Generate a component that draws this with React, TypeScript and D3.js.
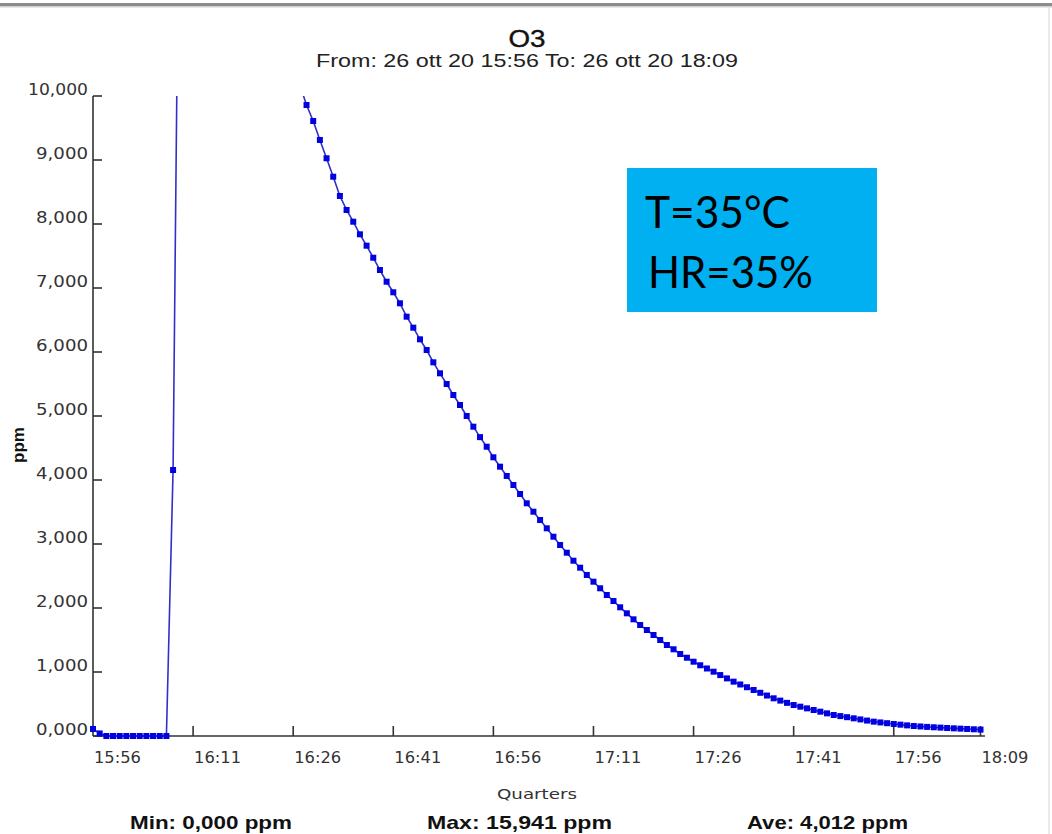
import React from "react";
import * as d3 from "d3";

// ---- data ----
const chartTitle = "O3";
const chartSubtitle = "From: 26 ott 20 15:56 To: 26 ott 20 18:09";
const yAxisTitle = "ppm";
const xAxisTitle = "Quarters";
const statLabels = ["Min: 0,000 ppm", "Max: 15,941 ppm", "Ave: 4,012 ppm"];
const infoLines = ["T=35°C", "HR=35%"];

// minutes after 15:56 at which the x ticks sit, and their labels
const xTickMinutes = [0, 15, 30, 45, 60, 75, 90, 105, 120, 133];
const xTickLabels = ["15:56", "16:11", "16:26", "16:41", "16:56", "17:11", "17:26", "17:41", "17:56", "18:09"];

const yTickValues = [0, 1000, 2000, 3000, 4000, 5000, 6000, 7000, 8000, 9000, 10000];
const yTickLabels = ["0,000", "1,000", "2,000", "3,000", "4,000", "5,000", "6,000", "7,000", "8,000", "9,000", "10,000"];

// one O3 reading (ppm) per minute from 15:56 to 18:09
const o3Values = [
  110, 40, 0, 0, 0, 0, 0, 0, 0, 0, 0, 0,
  4156, 14700,
  15941, 15525, 15120, 14725, 14340, 13965, 13600, 13245, 12900, 12560,
  12235, 11915, 11605, 11300, 11005, 10720, 10440, 10170,
  9859, 9609, 9313, 9027, 8739, 8438, 8219, 8036, 7839, 7661,
  7473, 7281, 7098, 6933, 6761, 6552, 6380, 6198, 6031, 5839,
  5667, 5500, 5328, 5172, 5000, 4833, 4670, 4520,
  4355, 4208, 4063, 3922, 3781, 3636, 3505, 3375, 3245, 3114,
  2984, 2864, 2739, 2630, 2516, 2411, 2308, 2203, 2109, 2011,
  1917, 1823, 1734, 1656, 1578, 1500, 1422, 1355, 1281, 1223, 1161,
  1105, 1055, 1005, 952, 900, 849, 805, 762, 719, 675,
  632, 589, 553, 518, 484, 458, 432, 406, 380, 354,
  328, 311, 294, 276, 259, 241, 224, 212, 200, 188,
  177, 166, 156, 149, 142, 136, 131, 125, 120, 115,
  110, 105, 100,
];

// ---- layout ----
const W = 1052;
const H = 834;
const M = { left: 93, right: 981, top: 96, bottom: 736 };

export default function App() {
  const x = d3.scaleLinear().domain([0, 133]).range([M.left, M.right - 0.5]);
  const y = d3.scaleLinear().domain([0, 10000]).range([M.bottom, M.top]);

  const line = d3
    .line<number>()
    .x((_, i) => x(i))
    .y((d) => y(d));

  const axisColor = "#333";
  const tickFont = "'DejaVu Sans', Verdana, sans-serif";
  const boldFont = "'Liberation Sans', Arial, sans-serif";
  const ms = 6;

  return (
    <svg
      width={W}
      height={H}
      style={{ position: "absolute", left: 0, top: 0, background: "#fff" }}
    >
      <defs>
        <clipPath id="plotClip">
          <rect x={0} y={M.top} width={W} height={H - M.top} />
        </clipPath>
      </defs>

      {/* top frame line */}
      <rect x={0} y={3} width={W} height={3} fill="#8c8c8c" />
      <rect x={0} y={6} width={W} height={1.5} fill="#cfcfcf" />
      <line x1={W - 3} x2={W - 3} y1={7} y2={H} stroke="#e2e2e2" strokeWidth={1.5} />

      {/* titles */}
      <text x={527} y={47} textAnchor="middle" fontFamily={boldFont} fontSize={24} fill="#111" stroke="#111" strokeWidth={0.4} textLength={37} lengthAdjust="spacingAndGlyphs">
        {chartTitle}
      </text>
      <text x={527} y={67} textAnchor="middle" fontFamily={boldFont} fontSize={18} fill="#222" textLength={422} lengthAdjust="spacingAndGlyphs">
        {chartSubtitle}
      </text>

      {/* y axis */}
      <line x1={M.left} x2={M.left} y1={y(10000)} y2={y(0)} stroke={axisColor} strokeWidth={1.6} />
      {yTickValues.map((v, i) => (
        <g key={"yt" + v}>
          <line x1={M.left} x2={M.left + 9} y1={y(v)} y2={y(v)} stroke={axisColor} strokeWidth={1.6} />
          <text
            x={88}
            y={y(v) - 1}
            textAnchor="end"
            fontFamily={tickFont}
            fontSize={15}
            fill="#333"
            textLength={yTickLabels[i].length > 5 ? 60 : 52}
            lengthAdjust="spacingAndGlyphs"
          >
            {yTickLabels[i]}
          </text>
        </g>
      ))}
      <text
        transform={`translate(24,${445}) rotate(-90)`}
        textAnchor="middle"
        fontFamily={boldFont}
        fontWeight="bold"
        fontSize={17}
        fill="#111"
      >
        {yAxisTitle}
      </text>

      {/* x axis */}
      <line x1={M.left} x2={M.right + 4} y1={M.bottom} y2={M.bottom} stroke={axisColor} strokeWidth={1.6} />
      {xTickMinutes.map((m, i) => (
        <g key={"xt" + m}>
          {i > 0 && (
            <line x1={x(m)} x2={x(m)} y1={M.bottom} y2={M.bottom - 10} stroke={axisColor} strokeWidth={1.6} />
          )}
          <text
            x={x(m) + 1}
            y={763}
            fontFamily={tickFont}
            fontSize={15}
            fill="#333"
            textLength={47}
            lengthAdjust="spacingAndGlyphs"
          >
            {xTickLabels[i]}
          </text>
        </g>
      ))}
      <text x={537} y={799} textAnchor="middle" fontFamily={tickFont} fontSize={13.5} fill="#333" textLength={80} lengthAdjust="spacingAndGlyphs">
        {xAxisTitle}
      </text>

      {/* series */}
      <g clipPath="url(#plotClip)">
        <path d={line(o3Values) || ""} fill="none" stroke="#3030c8" strokeWidth={1.6} />
        {o3Values.map((v, i) =>
          v <= 10000 ? (
            <rect key={"pt" + i} x={x(i) - ms / 2} y={y(v) - ms / 2} width={ms} height={ms} fill="#0000e0" />
          ) : null
        )}
      </g>

      {/* statistics */}
      {statLabels.map((s, i) => (
        <text
          key={s}
          x={[130, 427, 747][i]}
          y={829}
          fontFamily={boldFont}
          fontWeight="bold"
          fontSize={19}
          fill="#111"
          textLength={[162, 185, 161][i]}
          lengthAdjust="spacingAndGlyphs"
        >
          {s}
        </text>
      ))}

      {/* info box */}
      <rect x={627} y={168} width={250} height={144} fill="#00B0F0" />
      {infoLines.map((t, i) => (
        <text
          key={t}
          x={645 + i * 3}
          y={228 + i * 60}
          fontFamily="Lato, 'Open Sans', sans-serif"
          fontSize={45}
          fill="#000"
          textLength={[145, 165][i]}
          lengthAdjust="spacingAndGlyphs"
        >
          {t}
        </text>
      ))}
    </svg>
  );
}
